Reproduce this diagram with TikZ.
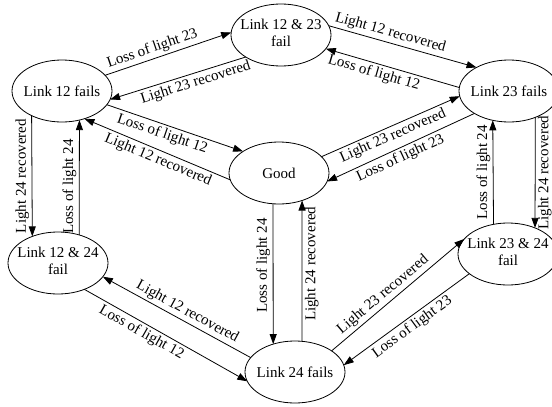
\documentclass[tikz,border=0pt]{standalone}
\usepackage{fontspec}
\setmainfont{Liberation Serif}
\usetikzlibrary{arrows.meta,shapes.geometric}
% state captions are boxed at zero width so the ellipse keeps its fixed size
\newcommand{\onecap}[1]{\makebox[0pt]{#1}}
\newcommand{\twocap}[2]{\makebox[0pt]{\begin{tabular}{@{}c@{}}#1\\#2\end{tabular}}}
\begin{document}
\begin{tikzpicture}[x=1pt,y=-1pt,
  state/.style={ellipse, draw, line width=0.8pt, minimum width=100pt,
    minimum height=62pt, inner sep=0pt, outer sep=0pt,
    font=\fontsize{15}{17}\selectfont},
  trans/.style={-{Triangle[length=10pt,width=7pt]}, line width=0.8pt},
  lab/.style={font=\fontsize{15}{17}\selectfont, inner sep=2.5pt},
  vlab/.style={lab, rotate=90}]
\path[use as bounding box, clip] (0,0) rectangle (552,407);

% states
\node[state] (A) at (62,91)   {\onecap{Link 12 fails}};
\node[state] (B) at (281,35)  {\twocap{Link 12 \& 23}{fail}};
\node[state] (C) at (509,91)  {\onecap{Link 23 fails}};
\node[state] (G) at (279,173) {\onecap{Good}};
\node[state] (D) at (58,263)  {\twocap{Link 12 \& 24}{fail}};
\node[state] (E) at (295,372) {\onecap{Link 24 fails}};
\node[state] (F) at (508,254) {\twocap{Link 23 \& 24}{fail}};

% transitions along the top
\draw[trans] (A.20.7) -- node[lab, sloped, above, pos=0.40] {Loss of light 23} (B.177.7);
\draw[trans] (B.212.7) -- node[lab, sloped, below, pos=0.39] {Light 23 recovered} (A.-10);
\draw[trans] (B.11.1) -- node[lab, sloped, above, pos=0.40] {Light 12 recovered} (C.144.9);
\draw[trans] (C.176.6) -- node[lab, sloped, below, pos=0.62] {Loss of light 12} (B.-17);

% transitions to and from Good
\draw[trans] (A.-17.4) -- node[lab, sloped, below, pos=0.43] {Loss of light 12} (G.149.7);
\draw[trans] (G.188.1) -- node[lab, sloped, below, pos=0.47] {Light 12 recovered} (A.-51.8);
\draw[trans] (G.21.4) -- node[lab, sloped, below, pos=0.49] {Light 23 recovered} (C.186.7);
\draw[trans] (C.213.7) -- node[lab, sloped, below, pos=0.53] {Loss of light 23} (G.-10);
\draw[trans] (G.259) -- node[vlab, anchor=south, pos=0.44] {Loss of light 24} (E.128.3);
\draw[trans] (E.77.2) -- node[vlab, anchor=north, pos=0.55] {Light 24 recovered} (G.-50.1);

% vertical pairs at the sides
\draw[trans] (A.219.6) -- node[vlab, anchor=south] {Light 24 recovered} (D.134.5);
\draw[trans] (D.53.2) -- node[vlab, anchor=south, pos=0.42] {Loss of light 24} (A.-59.75);
\draw[trans] (C.-45.5) -- node[vlab, anchor=north] {Light 24 recovered} (F.44);
\draw[trans] (F.116.9) -- node[vlab, anchor=south] {Loss of light 24} (C.241.4);

% transitions along the bottom
\draw[trans] (E.162.6) -- node[lab, sloped, above, pos=0.46] {Light 12 recovered} (D.-17.7);
\draw[trans] (D.-45) -- node[lab, sloped, below, pos=0.38] {Loss of light 12} (E.191.3);
\draw[trans] (E.30.7) -- node[lab, sloped, above, pos=0.435] {Light 23 recovered} (F.161.6);
\draw[trans] (F.207.1) -- node[lab, sloped, below, pos=0.50] {Loss of light 23} (E.8.0);
\end{tikzpicture}
\end{document}
